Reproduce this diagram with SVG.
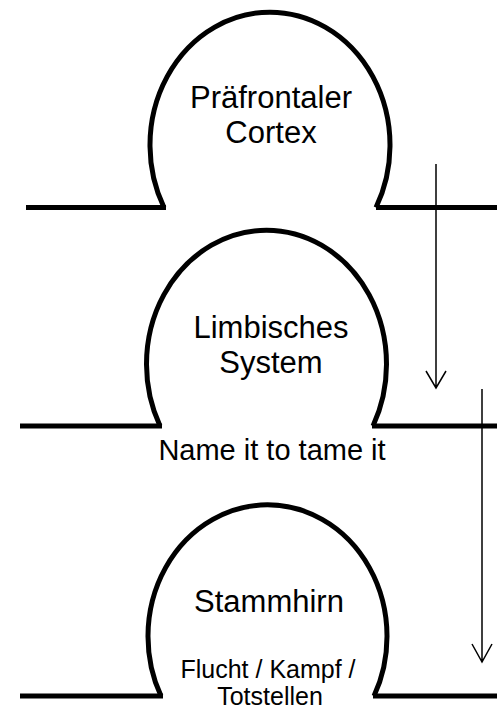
<svg xmlns="http://www.w3.org/2000/svg" width="497" height="711" viewBox="0 0 497 711">
  <defs>
    <style>
      .dome { fill: none; stroke: #000; stroke-width: 5; }
      .ground { fill: none; stroke: #000; stroke-width: 5; }
      .flow { fill: none; stroke: #000; stroke-width: 1.5; }
      .label { font-family: "Liberation Sans", Arial, sans-serif; fill: #000; text-anchor: middle; }
      .big { font-size: 31px; }
      .mid { font-size: 29px; }
      .small { font-size: 25px; }
    </style>
  </defs>
  <rect width="497" height="711" fill="#fff"/>

  <!-- Prefrontal cortex layer -->
  <g id="praefrontaler-cortex">
    <path class="ground" d="M26 207.5 H166 M376 207.5 H497"/>
    <path class="dome" d="M164 207.5 A120 133 0 1 1 376 207.5"/>
    <text class="label big" x="271" y="108">Präfrontaler</text>
    <text class="label big" x="271" y="143">Cortex</text>
  </g>

  <!-- Limbic system layer -->
  <g id="limbisches-system">
    <path class="ground" d="M20 426 H162 M372 426 H497"/>
    <path class="dome" d="M160 426 A120 134 0 1 1 373 426"/>
    <text class="label big" x="271" y="338">Limbisches</text>
    <text class="label big" x="271" y="373">System</text>
    <text class="label mid" x="272" y="460">Name it to tame it</text>
  </g>

  <!-- Brain stem layer -->
  <g id="stammhirn">
    <path class="ground" d="M20 696 H163 M373 696 H497"/>
    <path class="dome" d="M161 696 A119.5 131.5 0 1 1 374 696"/>
    <text class="label big" x="269" y="612">Stammhirn</text>
    <text class="label small" x="268" y="678">Flucht / Kampf /</text>
    <text class="label small" x="270" y="705">Totstellen</text>
  </g>

  <!-- Downward flow arrows -->
  <g id="connectors">
    <path class="flow" d="M436 164 V388 M426 371 L436 388 L446 371"/>
    <path class="flow" d="M482 389 V662 M472 644 L482 662 L492 644"/>
  </g>
</svg>
